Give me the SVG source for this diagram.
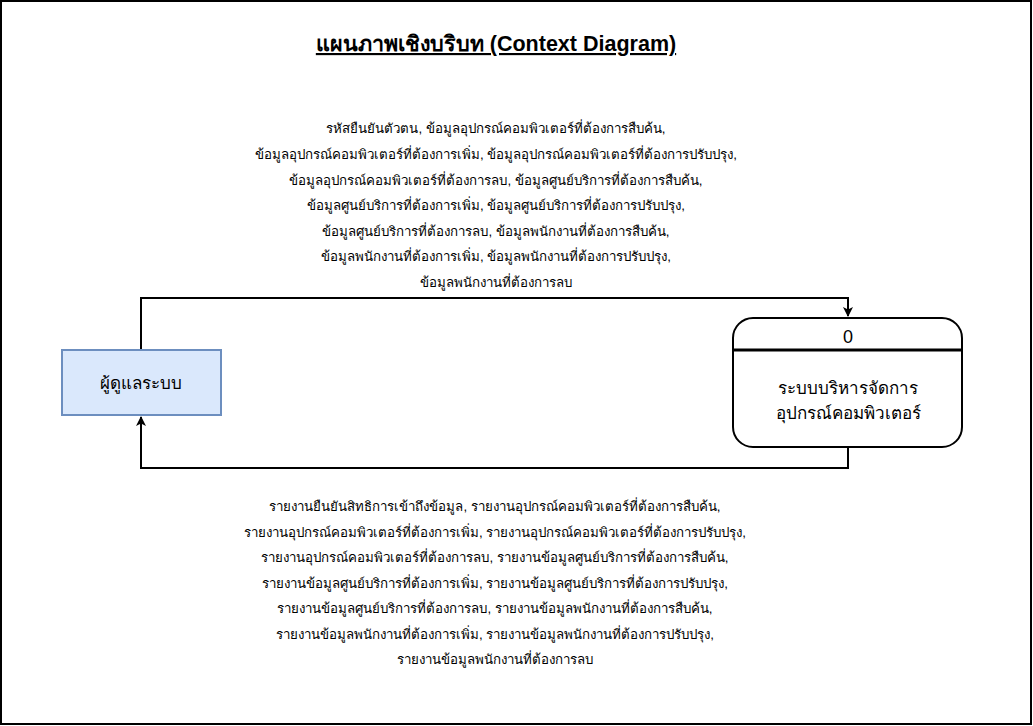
<svg xmlns="http://www.w3.org/2000/svg" width="1033" height="726" viewBox="0 0 1033 726">
<style>
text{font-family:"Liberation Sans","Noto Sans","DejaVu Sans",sans-serif;fill:#000;text-anchor:middle}
.lbl{font-size:13.3px}
.node{font-size:17px}
.conn{fill:none;stroke:#000;stroke-width:2}
</style>
<defs>
<marker id="arr" viewBox="0 0 10 10" refX="9" refY="5" markerWidth="10" markerHeight="10" markerUnits="userSpaceOnUse" orient="auto">
<path d="M0,0 L10,5 L0,10 L2.5,5 z" fill="#000"/>
</marker>
</defs>
<rect x="1" y="1" width="1030" height="723" fill="#fff" stroke="#000" stroke-width="2"/>
<text x="496" y="51" style="font-size:21.5px;font-weight:bold;text-decoration:underline">แผนภาพเชิงบริบท (Context Diagram)</text>
<g id="connectors">
<path class="conn" d="M141,350 V298 H848 V316" marker-end="url(#arr)"/>
<path class="conn" d="M848,447 V468 H141 V417" marker-end="url(#arr)"/>
<g class="lbl">
<text x="496" y="133">รหัสยืนยันตัวตน, ข้อมูลอุปกรณ์คอมพิวเตอร์ที่ต้องการสืบค้น,</text>
<text x="496" y="159">ข้อมูลอุปกรณ์คอมพิวเตอร์ที่ต้องการเพิ่ม, ข้อมูลอุปกรณ์คอมพิวเตอร์ที่ต้องการปรับปรุง,</text>
<text x="496" y="185">ข้อมูลอุปกรณ์คอมพิวเตอร์ที่ต้องการลบ, ข้อมูลศูนย์บริการที่ต้องการสืบค้น,</text>
<text x="496" y="210">ข้อมูลศูนย์บริการที่ต้องการเพิ่ม, ข้อมูลศูนย์บริการที่ต้องการปรับปรุง,</text>
<text x="496" y="236">ข้อมูลศูนย์บริการที่ต้องการลบ, ข้อมูลพนักงานที่ต้องการสืบค้น,</text>
<text x="496" y="261">ข้อมูลพนักงานที่ต้องการเพิ่ม, ข้อมูลพนักงานที่ต้องการปรับปรุง,</text>
<text x="496" y="287">ข้อมูลพนักงานที่ต้องการลบ</text>
<text x="495" y="511">รายงานยืนยันสิทธิการเข้าถึงข้อมูล, รายงานอุปกรณ์คอมพิวเตอร์ที่ต้องการสืบค้น,</text>
<text x="495" y="537">รายงานอุปกรณ์คอมพิวเตอร์ที่ต้องการเพิ่ม, รายงานอุปกรณ์คอมพิวเตอร์ที่ต้องการปรับปรุง,</text>
<text x="495" y="562">รายงานอุปกรณ์คอมพิวเตอร์ที่ต้องการลบ, รายงานข้อมูลศูนย์บริการที่ต้องการสืบค้น,</text>
<text x="495" y="588">รายงานข้อมูลศูนย์บริการที่ต้องการเพิ่ม, รายงานข้อมูลศูนย์บริการที่ต้องการปรับปรุง,</text>
<text x="495" y="613">รายงานข้อมูลศูนย์บริการที่ต้องการลบ, รายงานข้อมูลพนักงานที่ต้องการสืบค้น,</text>
<text x="495" y="639">รายงานข้อมูลพนักงานที่ต้องการเพิ่ม, รายงานข้อมูลพนักงานที่ต้องการปรับปรุง,</text>
<text x="495" y="664">รายงานข้อมูลพนักงานที่ต้องการลบ</text>
</g>
</g>
<g id="admin">
<rect x="62" y="350" width="159" height="65" fill="#dae8fc" stroke="#6c8ebf" stroke-width="2"/>
<text class="node" x="141" y="389">ผู้ดูแลระบบ</text>
</g>
<g id="process0">
<rect x="733" y="318" width="229" height="129" rx="20" ry="20" fill="#fff" stroke="#000" stroke-width="2"/>
<line x1="733" y1="350" x2="962" y2="350" stroke="#000" stroke-width="3"/>
<text x="848" y="343" style="font-size:18px">0</text>
<text class="node" x="848" y="394">ระบบบริหารจัดการ</text>
<text class="node" x="848" y="419">อุปกรณ์คอมพิวเตอร์</text>
</g>
</svg>
